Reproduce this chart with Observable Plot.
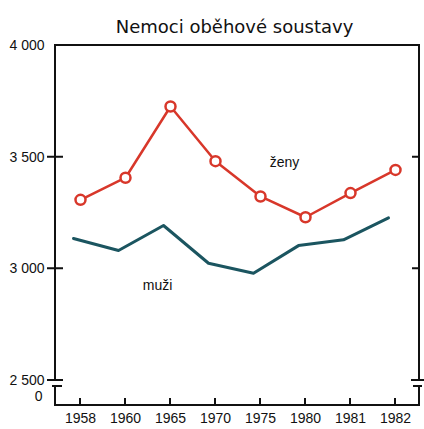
<!DOCTYPE html>
<html><head><meta charset="utf-8">
<script src="https://cdn.jsdelivr.net/npm/d3@7"></script>
<script src="https://cdn.jsdelivr.net/npm/@observablehq/plot@0.6"></script>
<style>body{margin:0;background:#fff} svg{display:block}</style>
</head><body><div id="chart"></div>
<script>
const title = "Nemoci oběhové soustavy";
const years = ["1958","1960","1965","1970","1975","1980","1981","1982"];
const zeny = [3309, 3408, 3727, 3482, 3324, 3231, 3339, 3443];
const muzi = [3136, 3082, 3194, 3025, 2980, 3104, 3130, 3228];
const yTicks = [2500, 3000, 3500, 4000];
const zeroLabel = ["0"];
const crossTicks = [3000, 3500];
const seriesNames = ["ženy", "muži"];

const zenyData = years.map((year, i) => ({year, value: zeny[i]}));
const muziData = years.map((year, i) => ({year, value: muzi[i]}));

const RED = "#d8372a";
const TEAL = "#1b5560";
const fmt = d => d3.format(",")(d).replace(/,/g, " ");

function frameWithBreaks(index, scales, values, dim) {
  const {x, y} = scales;
  const L = dim.marginLeft, R = dim.width - dim.marginRight;
  const T = y(d3.max(yTicks)), B = dim.height - dim.marginBottom, brk = y(d3.min(yTicks)), gap = 6;
  const g = d3.create("svg:g")
    .attr("fill", "none").attr("stroke", "#111").attr("stroke-width", 2);
  const p = [
    `M${L},${brk}V${T}H${R}V${brk}`,
    `M${L},${brk + gap}V${B}H${R}V${brk + gap}`,
    `M${L - 8},${brk}H${L + 8}`, `M${L - 3},${brk + gap}H${L + 7}`,
    `M${R - 8},${brk}H${R + 5}`, `M${R - 6},${brk + gap}H${R + 3}`
  ];
  for (const v of crossTicks) {
    p.push(`M${L - 8},${y(v)}H${L + 8}`);
    p.push(`M${R - 7},${y(v)}H${R}`);
  }
  for (const yr of years) p.push(`M${x(yr)},${B}V${B - 7}`);
  g.append("path").attr("d", p.join(""));
  return g.node();
}

const chart = Plot.plot({
  width: 424,
  height: 429,
  marginLeft: 55,
  marginRight: 5,
  marginTop: 45,
  marginBottom: 24,
  style: {fontFamily: "'Liberation Sans', Arial, sans-serif", fontSize: "14px", color: "#111", background: "#fff"},
  x: {type: "point", domain: years, padding: 0.5},
  y: {domain: [2500, 4000], range: [380, 45]},
  marks: [
    frameWithBreaks,
    Plot.axisY({ticks: yTicks, tickSize: 0, tickPadding: 11, tickFormat: fmt, fontSize: 14, label: null}),
    Plot.axisX({tickSize: 0, tickPadding: 8, fontSize: 14, label: null}),
    Plot.text(zeroLabel, {frameAnchor: "bottom-left", dx: -13, dy: -5, textAnchor: "end", text: d => d, fontSize: 14, fill: "#111"}),
    Plot.line(muziData, {x: "year", y: "value", stroke: TEAL, strokeWidth: 3, dx: -7}),
    Plot.line(zenyData, {x: "year", y: "value", stroke: RED, strokeWidth: 2.5}),
    Plot.dot(zenyData, {x: "year", y: "value", r: 5, fill: "white", stroke: RED, strokeWidth: 2.5}),
    Plot.text([seriesNames[0]], {x: () => years[4], y: () => 3476, dx: 24, text: d => d, fontSize: 14, fill: "#111"}),
    Plot.text([seriesNames[1]], {x: () => years[2], y: () => 2925, dx: -13, text: d => d, fontSize: 14, fill: "#111"}),
    Plot.text([title], {frameAnchor: "top", dy: -25, dx: -3, text: d => d, fontSize: 18, fontFamily: "'DejaVu Sans', sans-serif", fill: "#111"})
  ]
});
document.getElementById("chart").appendChild(chart);
</script>
</body></html>
